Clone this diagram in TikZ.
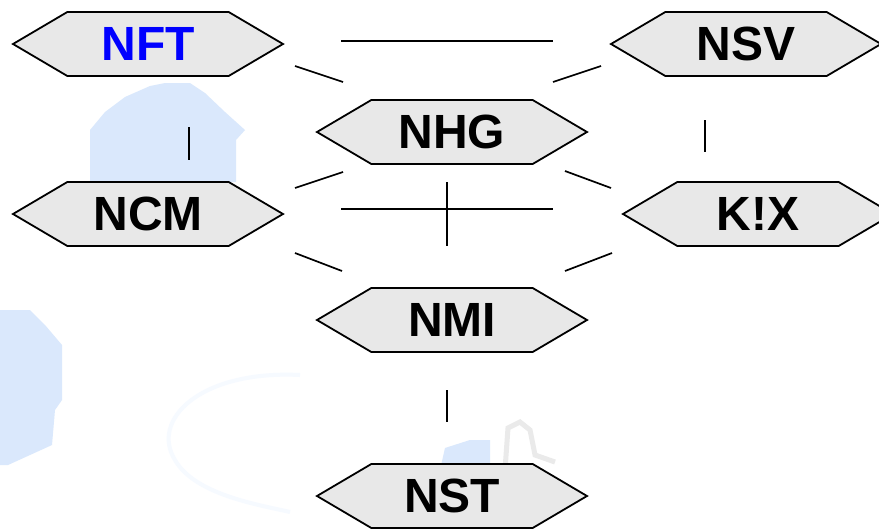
\documentclass[tikz,border=0pt]{standalone}
\usepackage{fontspec}
\setmainfont{Liberation Sans}
\usetikzlibrary{shapes.symbols,calc}
\definecolor{hexfill}{HTML}{E8E8E8}
\definecolor{wmblue}{HTML}{DAE8FC}
\definecolor{wmgrey}{HTML}{EAEAEA}
\definecolor{wmfaint}{HTML}{F6FAFF}
\begin{document}
\begin{tikzpicture}[x=1pt,y=-1pt,
  hexbox/.style={shape=signal, signal to=west and east, signal pointer angle=61,
    draw=black, line width=1.8pt, fill=hexfill, inner sep=0pt,
    minimum width=270pt, minimum height=64pt, font=\fontsize{48}{48}\selectfont\bfseries},
  link/.style={draw=black, line width=1.7pt},
  wm/.style={fill=wmblue, draw=none}]
\useasboundingbox (0,0) rectangle (879,528);
\fill[white] (0,0) rectangle (879,528);
% watermark
\fill[wm] (90,182) -- (90,130) -- (105,112) -- (125,97) -- (150,86) -- (165,83) -- (190,83) -- (205,93) -- (225,112) -- (245,130) -- (236,140) -- (236,182) -- cycle;
\fill[wm] (0,310) -- (30,310) -- (45,325) -- (62,345) -- (62,400) -- (55,410) -- (52,445) -- (30,455) -- (8,465) -- (0,465) -- cycle;
\fill[wm] (440,470) -- (445,448) -- (470,440) -- (490,440) -- (490,470) -- cycle;
\draw[wmgrey, line width=5pt] (505,470) -- (508,428) -- (520,422) -- (530,430) -- (535,455) -- (555,462);
\draw[wmfaint, line width=4pt] (300,375) .. controls (200,370) and (150,420) .. (175,460) .. controls (195,495) and (260,505) .. (290,512);
% nodes
\node[hexbox, text=blue] (NFT) at (148,44) {NFT};
\node[hexbox] (NSV) at (746,44) {NSV};
\node[hexbox] (NHG) at (452,132) {NHG};
\node[hexbox] (NCM) at (148,214) {NCM};
\node[hexbox] (KIX) at (758,214) {K!X};
\node[hexbox] (NMI) at (452,320) {NMI};
\node[hexbox] (NST) at (452,496) {NST};
% connectors
\draw[link] ($(NFT)+(193,-3)$) -- ($(NSV)+(-193,-3)$);
\draw[link] ($(NFT)+(147,22)$) -- ($(NHG)+(-109,-50)$);
\draw[link] ($(NSV)+(-145,22)$) -- ($(NHG)+(101,-50)$);
\draw[link] ($(NFT)+(41,83)$) -- ($(NCM)+(41,-54)$);
\draw[link] ($(NSV)+(-41,76)$) -- ($(KIX)+(-53,-62)$);
\draw[link] ($(NHG)+(-109,40)$) -- ($(NCM)+(147,-26)$);
\draw[link] ($(NHG)+(113,39)$) -- ($(KIX)+(-147,-26)$);
\draw[link] ($(NCM)+(193,-5)$) -- ($(KIX)+(-205,-5)$);
\draw[link] ($(NHG)+(-5,50)$) -- ($(NMI)+(-5,-74)$);
\draw[link] ($(NCM)+(147,39)$) -- ($(NMI)+(-110,-49)$);
\draw[link] ($(KIX)+(-146,39)$) -- ($(NMI)+(113,-49)$);
\draw[link] ($(NMI)+(-5,70)$) -- ($(NST)+(-5,-74)$);
\end{tikzpicture}
\end{document}
